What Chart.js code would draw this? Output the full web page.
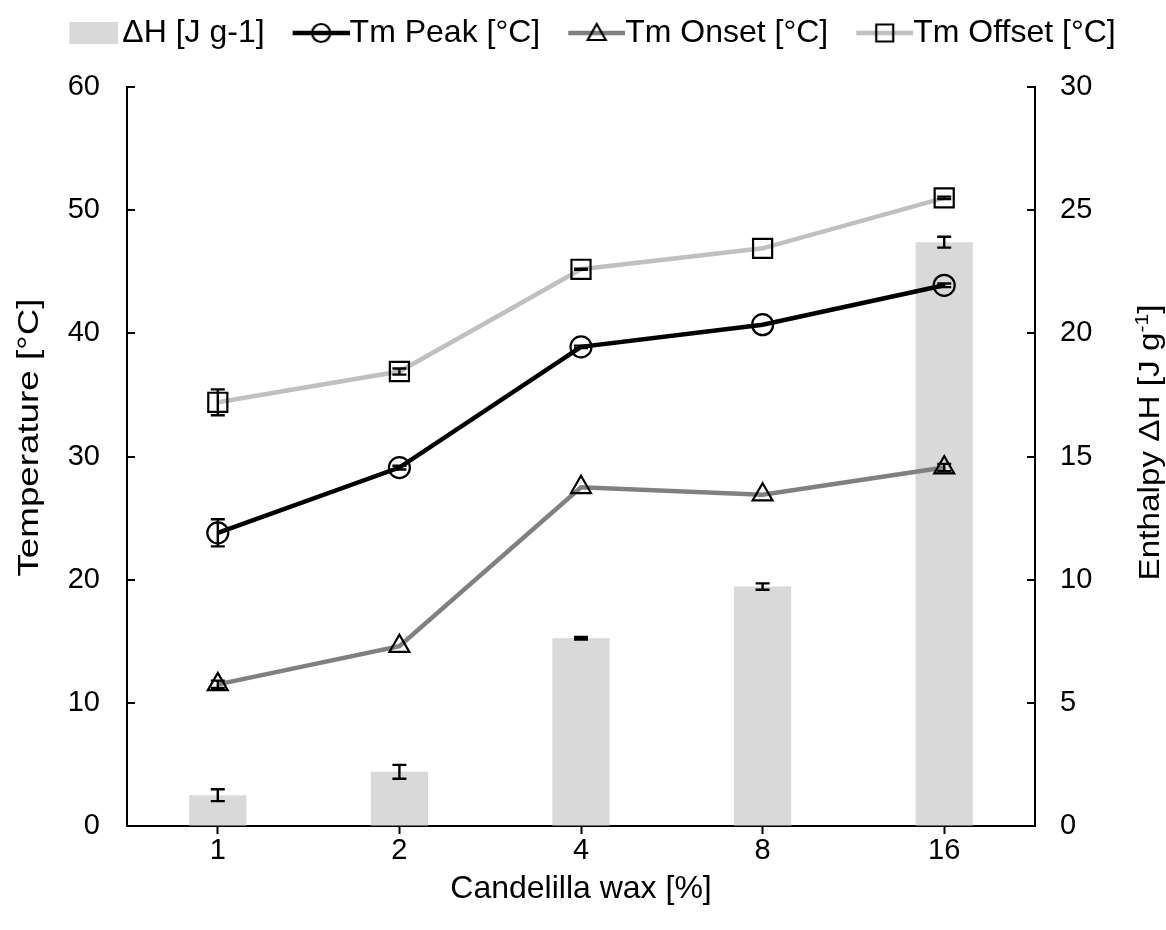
<!DOCTYPE html>
<html>
<head>
<meta charset="utf-8">
<script src="https://cdn.jsdelivr.net/npm/chart.js@4.4.1/dist/chart.umd.min.js"></script>
<style>
  html, body { margin: 0; padding: 0; background: #ffffff; }
  #wrap { width: 1166px; height: 930px; }
</style>
</head>
<body>
<div id="wrap"><canvas id="chart" width="1166" height="930"></canvas></div>
<script>
// Candelilla wax concentration (%)
const waxLabels = ['1', '2', '4', '8', '16'];

// Melting enthalpy ΔH (J/g) and its standard deviation
const enthalpy    = [1.25, 2.2, 7.62, 9.72, 23.7];
const enthalpyErr = [0.24, 0.28, 0.05, 0.13, 0.22];

// Melting temperatures (°C) and standard deviations
const tmPeak      = [23.8, 29.1, 38.9, 40.7, 43.9];
const tmPeakErr   = [1.1, 0.15, 0.1, 0.0, 0.15];
const tmOnset     = [11.5, 14.6, 27.5, 26.9, 29.1];
const tmOnsetErr  = [0.3, 0.0, 0.0, 0.0, 0.3];
const tmOffset    = [34.4, 36.9, 45.2, 46.9, 51.0];
const tmOffsetErr = [1.05, 0.25, 0.05, 0.0, 0.1];

// Axis ranges
const tempAxis = { min: 0, max: 60, step: 10 };
const enthAxis = { min: 0, max: 30, step: 5 };

const FONT = 'Liberation Sans, Arial, sans-serif';
const BAR_GREY = '#d9d9d9';
const LINE_BLACK = '#000000';
const LINE_MID = '#808080';
const LINE_LIGHT = '#c0c0c0';
const LEGEND_SIZE = 32;

// Legend glyphs: a short line with its marker, or a filled box for the bars.
// The glyph is padded on the left so it sits close to its label.
const ICON_BOX = 56;
function legendIcon(kind, color, gap) {
  const shift = LEGEND_SIZE / 2 - gap;
  const w = ICON_BOX + shift * 2, h = 28;
  const c = document.createElement('canvas');
  c.width = Math.round(w); c.height = h;
  const g = c.getContext('2d');
  const right = c.width, cy = h / 2;
  if (kind === 'bar') {
    g.fillStyle = BAR_GREY;
    g.fillRect(right - 49, cy - 11, 49, 22);
    return c;
  }
  const x0 = right - 57, cx = x0 + 28.5;
  g.strokeStyle = color; g.lineWidth = 4.5;
  g.beginPath(); g.moveTo(x0, cy); g.lineTo(right, cy); g.stroke();
  g.strokeStyle = '#000'; g.lineWidth = 2.2;
  g.beginPath();
  if (kind === 'circle') {
    g.arc(cx, cy, 9, 0, Math.PI * 2);
  } else if (kind === 'triangle') {
    g.moveTo(cx, cy - 9); g.lineTo(cx + 9, cy + 7); g.lineTo(cx - 9, cy + 7); g.closePath();
  } else {
    g.rect(cx - 8.5, cy - 8.5, 17, 17);
  }
  g.stroke();
  return c;
}

// Draws ± error bars for every dataset that carries an errorBars array
const errorBarPlugin = {
  id: 'errorBars',
  afterDatasetsDraw(chart) {
    const ctx = chart.ctx;
    ctx.save();
    ctx.strokeStyle = '#000';
    ctx.lineWidth = 2.4;
    chart.data.datasets.forEach((ds, di) => {
      if (!ds.errorBars) return;
      const meta = chart.getDatasetMeta(di);
      const scale = chart.scales[meta.yAxisID];
      const cap = ds.errorCap || 7;
      ds.data.forEach((v, i) => {
        const e = ds.errorBars[i];
        if (!e) return;
        const x = meta.data[i].x;
        const yTop = scale.getPixelForValue(v + e);
        const yBot = scale.getPixelForValue(v - e);
        ctx.beginPath();
        ctx.moveTo(x, yTop); ctx.lineTo(x, yBot);
        ctx.moveTo(x - cap, yTop); ctx.lineTo(x + cap, yTop);
        ctx.moveTo(x - cap, yBot); ctx.lineTo(x + cap, yBot);
        ctx.stroke();
      });
    });
    ctx.restore();
  }
};

// Inward tick marks on both value axes
const innerTicksPlugin = {
  id: 'innerTicks',
  afterDraw(chart) {
    const ctx = chart.ctx;
    ctx.save();
    ctx.strokeStyle = '#000';
    ctx.lineWidth = 2;
    [['y', 1], ['y1', -1]].forEach(([id, dir]) => {
      const s = chart.scales[id];
      const x = dir > 0 ? s.right : s.left;
      s.ticks.forEach(t => {
        const y = Math.round(s.getPixelForValue(t.value));
        ctx.beginPath();
        ctx.moveTo(x, y); ctx.lineTo(x + dir * 8, y);
        ctx.stroke();
      });
    });
    ctx.restore();
  }
};

// Vertical axis titles, both reading bottom-to-top
function drawVerticalTitle(ctx, cx, cy, parts, length) {
  ctx.save();
  const base = 30;
  const fontFor = p => `${p.sup ? 19 : base}px ${FONT}`;
  let total = 0;
  parts.forEach(p => { ctx.font = fontFor(p); p.w = ctx.measureText(p.t).width; total += p.w; });
  ctx.translate(cx, cy);
  ctx.rotate(-Math.PI / 2);
  ctx.scale(length / total, 1);
  ctx.fillStyle = '#000';
  ctx.textBaseline = 'middle';
  ctx.textAlign = 'left';
  let x = -total / 2;
  parts.forEach(p => {
    ctx.font = fontFor(p);
    ctx.fillText(p.t, x, p.sup ? -8 : 0);
    x += p.w;
  });
  ctx.restore();
}

const axisTitlePlugin = {
  id: 'axisTitles',
  afterDraw(chart) {
    const a = chart.chartArea;
    const mid = (a.top + a.bottom) / 2;
    drawVerticalTitle(chart.ctx, a.left - 97, mid - 19,
      [{ t: 'Temperature [°C]' }], 278);
    drawVerticalTitle(chart.ctx, a.right + 116, mid - 14,
      [{ t: 'Enthalpy ΔH [J g' }, { t: '-1', sup: true }, { t: ']' }], 276);
  }
};

const legendItems = [
  { text: 'ΔH [J g-1]',     icon: legendIcon('bar', BAR_GREY, 4) },
  { text: 'Tm Peak [°C]',   icon: legendIcon('circle', LINE_BLACK, 0) },
  { text: 'Tm Onset [°C]',  icon: legendIcon('triangle', LINE_MID, 0) },
  { text: 'Tm Offset [°C]', icon: legendIcon('rect', LINE_LIGHT, 0) }
];

const lineDataset = (label, data, err, color, style, radius) => ({
  type: 'line',
  label,
  data,
  errorBars: err,
  errorCap: 7,
  yAxisID: 'y',
  borderColor: color,
  borderWidth: 4.5,
  tension: 0,
  fill: false,
  pointStyle: style,
  pointRadius: radius,
  pointHoverRadius: radius,
  pointBorderColor: '#000',
  pointBorderWidth: 2.2,
  pointBackgroundColor: 'rgba(255,255,255,0)',
  order: 0
});

new Chart(document.getElementById('chart'), {
  data: {
    labels: waxLabels,
    datasets: [
      {
        type: 'bar',
        label: 'ΔH [J g-1]',
        data: enthalpy,
        errorBars: enthalpyErr,
        errorCap: 7,
        yAxisID: 'y1',
        backgroundColor: BAR_GREY,
        borderWidth: 0,
        barPercentage: 0.315,
        categoryPercentage: 1,
        order: 2
      },
      lineDataset('Tm Offset [°C]', tmOffset, tmOffsetErr, LINE_LIGHT, 'rect', 13.5),
      lineDataset('Tm Onset [°C]', tmOnset, tmOnsetErr, LINE_MID, 'triangle', 11.5),
      lineDataset('Tm Peak [°C]', tmPeak, tmPeakErr, LINE_BLACK, 'circle', 10.5)
    ]
  },
  options: {
    responsive: false,
    animation: false,
    devicePixelRatio: 1,
    layout: { padding: { top: 4, left: 0, right: 0, bottom: 0 } },
    plugins: {
      tooltip: { enabled: false },
      title: {
        // empty spacer between the legend and the plot
        display: true,
        text: '',
        weight: 500,
        padding: { top: 27, bottom: 0 },
        font: { size: 1, lineHeight: 1 }
      },
      legend: {
        position: 'top',
        labels: {
          usePointStyle: true,
          pointStyleWidth: ICON_BOX,
          padding: 13,
          color: '#000',
          font: { family: FONT, size: LEGEND_SIZE },
          generateLabels: () => legendItems.map((it, i) => ({
            text: it.text,
            pointStyle: it.icon,
            fillStyle: 'transparent',
            strokeStyle: 'transparent',
            lineWidth: 0,
            fontColor: '#000',
            datasetIndex: i,
            hidden: false
          }))
        }
      }
    },
    scales: {
      x: {
        type: 'category',
        offset: true,
        grid: {
          offset: false,
          drawOnChartArea: false,
          drawTicks: true,
          tickLength: 8,
          tickWidth: 2,
          tickColor: '#000'
        },
        border: { display: true, color: '#000', width: 2 },
        ticks: { color: '#000', padding: 0, font: { family: FONT, size: 29 } },
        title: {
          display: true,
          text: 'Candelilla wax [%]',
          color: '#000',
          padding: { top: 2, bottom: 22 },
          font: { family: FONT, size: 32 }
        },
        afterFit(s) { s.height = 104; }
      },
      y: {
        type: 'linear',
        position: 'left',
        min: tempAxis.min,
        max: tempAxis.max,
        ticks: { stepSize: tempAxis.step, color: '#000', padding: 27, font: { family: FONT, size: 29 } },
        grid: { drawOnChartArea: false, drawTicks: false },
        border: { display: true, color: '#000', width: 2 },
        title: { display: false },
        afterFit(s) { s.width = 127; }
      },
      y1: {
        type: 'linear',
        position: 'right',
        min: enthAxis.min,
        max: enthAxis.max,
        ticks: { stepSize: enthAxis.step, color: '#000', padding: 25, font: { family: FONT, size: 29 } },
        grid: { drawOnChartArea: false, drawTicks: false },
        border: { display: true, color: '#000', width: 2 },
        title: { display: false },
        afterFit(s) { s.width = 131; }
      }
    }
  },
  plugins: [errorBarPlugin, innerTicksPlugin, axisTitlePlugin]
});
</script>
</body>
</html>
